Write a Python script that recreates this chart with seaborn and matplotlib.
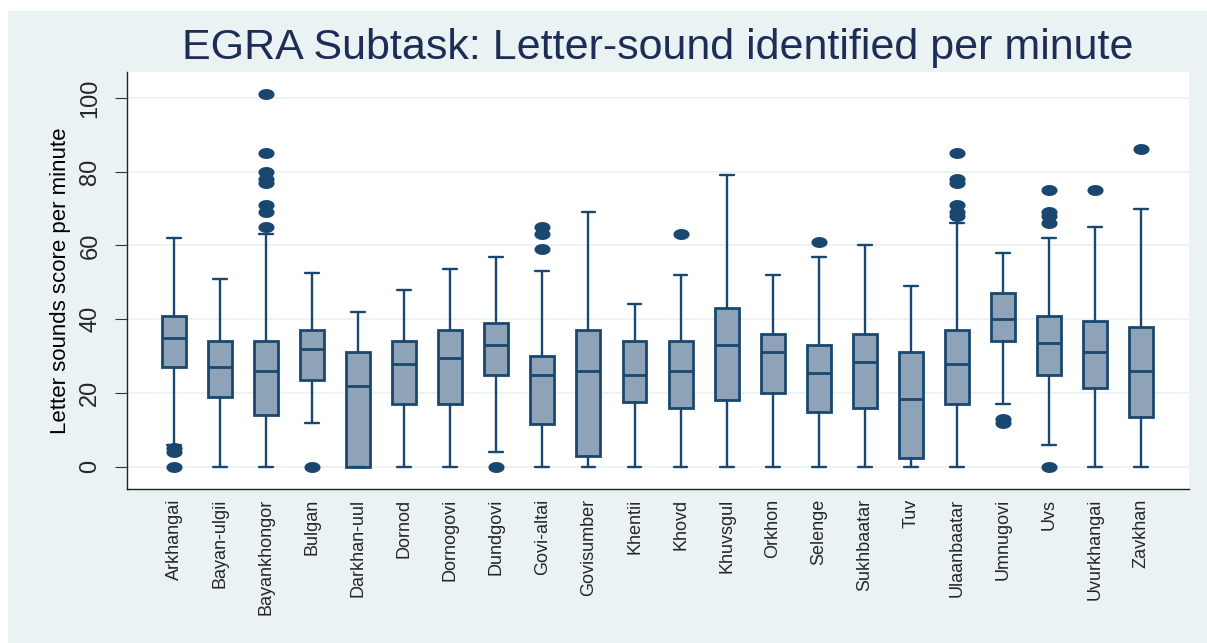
import numpy as np
import pandas as pd
import matplotlib
matplotlib.use("Agg")
import matplotlib.pyplot as plt
from matplotlib.path import Path
from matplotlib.patches import Rectangle
import seaborn as sns

# --- data (letter sounds per minute) ---
provinces = ["Arkhangai", "Bayan-ulgii", "Bayankhongor", "Bulgan", "Darkhan-uul",
             "Dornod", "Dornogovi", "Dundgovi", "Govi-altai", "Govisumber",
             "Khentii", "Khovd", "Khuvsgul", "Orkhon", "Selenge", "Sukhbaatar",
             "Tuv", "Ulaanbaatar", "Umnugovi", "Uvs", "Uvurkhangai", "Zavkhan"]
whisker_low = [6, 0, 0, 12, 0, 0, 0, 4, 0, 0, 0, 0, 0, 0, 0, 0, 0, 0, 17, 6, 0, 0]
q1 = [27, 19, 14, 23.5, 0, 17, 17, 25, 11.5, 3, 17.5, 16, 18, 20, 15, 16,
      2.5, 17, 34, 25, 21.5, 13.5]
median = [35, 27, 26, 32, 22, 28, 29.5, 33, 25, 26, 25, 26, 33, 31, 25.5, 28.5,
          18.5, 28, 40, 33.5, 31, 26]
q3 = [41, 34, 34, 37, 31, 34, 37, 39, 30, 37, 34, 34, 43, 36, 33, 36,
      31, 37, 47, 41, 39.5, 38]
whisker_high = [62, 51, 63, 52.5, 42, 48, 53.5, 57, 53, 69, 44, 52, 79, 52, 57, 60,
                49, 66, 58, 62, 65, 70]
outliers = {
    "Arkhangai": [5, 4, 0],
    "Bayankhongor": [101, 85, 80, 78, 77, 71, 69, 65],
    "Bulgan": [0],
    "Dundgovi": [0],
    "Govi-altai": [65, 63, 59],
    "Khovd": [63],
    "Selenge": [61],
    "Ulaanbaatar": [85, 78, 77, 71, 69, 68],
    "Umnugovi": [13, 12],
    "Uvs": [75, 69, 68, 66, 0],
    "Uvurkhangai": [75],
    "Zavkhan": [86],
}

title = "EGRA Subtask: Letter-sound identified per minute"
ylabel = "Letter sounds score per minute"
yticks = [0, 20, 40, 60, 80, 100]

navy = "#1A476F"
box_fill = "#8EA3B7"
bg = "#EAF2F3"

sns.set_theme(style="white")
plt.rcParams["font.family"] = ["Liberation Sans", "DejaVu Sans"]

fig = plt.figure(figsize=(12.07, 6.43), dpi=100, facecolor="white")
fig.patches.append(Rectangle((8 / 1207, 0), 1, (643 - 11) / 643,
                             transform=fig.transFigure, color=bg, zorder=-10))
ax = fig.add_axes([127 / 1207, 1 - 489 / 643, (1189 - 127) / 1207, (489 - 72) / 643])
ax.set_facecolor("white")

positions = np.arange(len(provinces))
stats = [dict(med=m, q1=a, q3=b, whislo=lo, whishi=hi, fliers=[])
         for m, a, b, lo, hi in zip(median, q1, q3, whisker_low, whisker_high)]
ax.bxp(stats, positions=positions, widths=0.52, showfliers=False, patch_artist=True,
       boxprops=dict(facecolor=box_fill, edgecolor=navy, linewidth=2.0),
       medianprops=dict(color=navy, linewidth=2.0),
       whiskerprops=dict(color=navy, linewidth=1.7),
       capprops=dict(color=navy, linewidth=1.7), capwidths=0.3, zorder=3)

# outside values as flattened ellipse markers
rows = [(provinces.index(p), v) for p, vals in outliers.items() for v in vals]
out_df = pd.DataFrame(rows, columns=["pos", "score"])
t = np.linspace(0, 2 * np.pi, 40)
ellipse = Path(np.column_stack([np.cos(t), 0.68 * np.sin(t)]), closed=True)
sns.scatterplot(data=out_df, x="pos", y="score", marker=ellipse, s=135,
                color=navy, edgecolor=navy, linewidth=0, ax=ax, zorder=4, legend=False)

ax.set_xlim(-1.02, 22.04)
ax.set_ylim(-6, 107)
ax.set_yticks(yticks)
ax.set_yticklabels([str(v) for v in yticks], rotation=90, va="center", fontsize=17)
ax.set_xticks(positions)
ax.set_xticklabels(provinces, rotation=90, ha="center", va="top", fontsize=13)
ax.tick_params(axis="y", length=8.5, width=0.8, color="#333333", pad=10, direction="out", left=True)
ax.tick_params(axis="x", length=0, pad=7)
for y in yticks:
    ax.axhline(y, color=bg, linewidth=1.3, zorder=0)
for side in ["top", "right"]:
    ax.spines[side].set_visible(False)
for side in ["left", "bottom"]:
    ax.spines[side].set_color("#222222")
    ax.spines[side].set_linewidth(1.0)
ax.set_xlabel("")
ax.set_ylabel(ylabel, fontsize=16, color="black", labelpad=6)
fig.text((127 + 1189) / 2 / 1207, 1 - 48 / 643, title, ha="center", va="center",
         fontsize=31, color="#1E2D55")

fig.savefig("out.png", dpi=100, facecolor=fig.get_facecolor())
